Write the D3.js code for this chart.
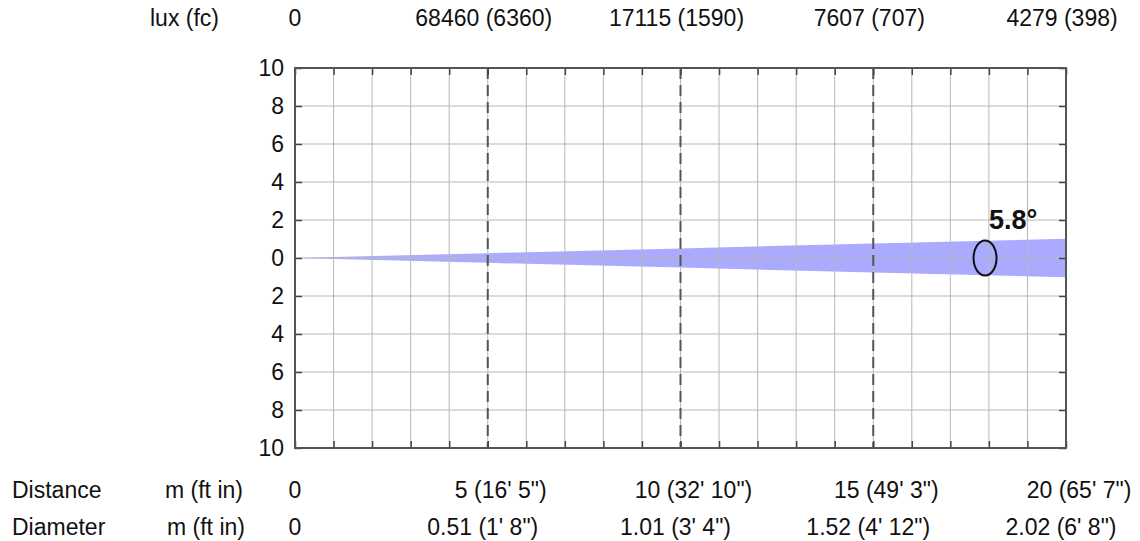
<!DOCTYPE html>
<html>
<head>
<meta charset="utf-8">
<script src="https://cdn.jsdelivr.net/npm/d3@7"></script>
<style>
  body { margin: 0; background: #fff; font-family: 'Liberation Sans', Arial, sans-serif; }
  svg { display: block; }
  .lbl { font-size: 23px; fill: #111; }
</style>
</head>
<body>
<svg id="chart" width="1140" height="541"></svg>
<script>
// beam data
const distances = [0, 5, 10, 15, 20];
const diameters = [0, 0.51, 1.01, 1.52, 2.02];
const distanceLabels = ['0', "5 (16' 5\")", "10 (32' 10\")", "15 (49' 3\")", "20 (65' 7\")"];
const diameterLabels = ['0', "0.51 (1' 8\")", "1.01 (3' 4\")", "1.52 (4' 12\")", "2.02 (6' 8\")"];
const luxLabels = ['0', '68460 (6360)', '17115 (1590)', '7607 (707)', '4279 (398)'];
const yTicks = [-10, -8, -6, -4, -2, 0, 2, 4, 6, 8, 10];
const beamAngle = '5.8°';
const markerDistance = 17.9;

const svg = d3.select('#chart');
const margin = { left: 295, right: 74, top: 68, bottom: 93 };
const W = 1140, H = 541;

const x = d3.scaleLinear().domain([0, 20]).range([margin.left, W - margin.right]);
const y = d3.scaleLinear().domain([-10, 10]).range([H - margin.bottom, margin.top]);

const plot = svg.append('g');

// beam
const beam = distances.map((d, i) => ({ d: d, half: diameters[i] / 2 }));
plot.append('path')
  .datum(beam)
  .attr('fill', '#aaaaff')
  .attr('d', d3.area().x(p => x(p.d)).y0(p => y(-p.half)).y1(p => y(p.half)));

// grid
plot.selectAll('line.vg')
  .data(d3.range(1, 20))
  .enter().append('line')
  .attr('x1', d => x(d)).attr('x2', d => x(d))
  .attr('y1', y(10)).attr('y2', y(-10))
  .attr('stroke', '#b8b8b8').attr('stroke-width', 1);

plot.selectAll('line.hg')
  .data(yTicks.slice(1, -1))
  .enter().append('line')
  .attr('x1', x(0)).attr('x2', x(20))
  .attr('y1', d => y(d)).attr('y2', d => y(d))
  .attr('stroke', '#b8b8b8').attr('stroke-width', 1);

// dashed distance markers
plot.selectAll('line.dash')
  .data(distances.slice(1, -1))
  .enter().append('line')
  .attr('x1', d => x(d)).attr('x2', d => x(d))
  .attr('y1', y(10)).attr('y2', y(-10))
  .attr('stroke', '#555').attr('stroke-width', 2)
  .attr('stroke-dasharray', '11,6');

// tick marks on all four sides
const tickSides = [
  [d3.axisTop(x).tickValues(d3.range(0, 21)), 'translate(0,' + y(10) + ')'],
  [d3.axisBottom(x).tickValues(d3.range(0, 21)), 'translate(0,' + y(-10) + ')'],
  [d3.axisLeft(y).tickValues(yTicks), 'translate(' + x(0) + ',0)'],
  [d3.axisRight(y).tickValues(yTicks), 'translate(' + x(20) + ',0)']
];
tickSides.forEach(([ax, tr]) => {
  const g = plot.append('g').attr('transform', tr)
    .call(ax.tickSize(-7).tickFormat(''));
  g.select('.domain').remove();
  g.selectAll('line').attr('stroke', '#444').attr('stroke-width', 1.5);
});

// box
plot.append('rect')
  .attr('x', x(0)).attr('y', y(10))
  .attr('width', x(20) - x(0)).attr('height', y(-10) - y(10))
  .attr('fill', 'none').attr('stroke', '#555').attr('stroke-width', 2);

// y labels
svg.selectAll('text.ylab')
  .data(yTicks)
  .enter().append('text')
  .attr('class', 'lbl')
  .attr('x', x(0) - 11)
  .attr('y', d => y(d))
  .attr('dy', '0.36em')
  .attr('text-anchor', 'end')
  .text(d => Math.abs(d));

// beam angle marker
svg.append('ellipse')
  .attr('cx', x(markerDistance)).attr('cy', y(0))
  .attr('rx', 11.5).attr('ry', 17.5)
  .attr('fill', 'none').attr('stroke', '#111').attr('stroke-width', 2);
svg.append('text')
  .attr('x', x(markerDistance) + 4).attr('y', y(0) - 29)
  .attr('font-size', 27).attr('font-weight', 'bold').attr('fill', '#111')
  .text(beamAngle);

// top row: lux
svg.append('text').attr('class', 'lbl').attr('x', 150).attr('y', 26).text('lux (fc)');
svg.selectAll('text.lux')
  .data(luxLabels)
  .enter().append('text')
  .attr('class', 'lbl')
  .attr('x', (d, i) => i === 0 ? x(0) : x(distances[i]) - 4)
  .attr('y', 26)
  .attr('text-anchor', 'middle')
  .text(d => d);

// bottom rows
svg.append('text').attr('class', 'lbl').attr('x', 12).attr('y', 498).text('Distance');
svg.append('text').attr('class', 'lbl').attr('x', 165).attr('y', 498).text('m (ft in)');
svg.append('text').attr('class', 'lbl').attr('x', 12).attr('y', 535).text('Diameter');
svg.append('text').attr('class', 'lbl').attr('x', 167).attr('y', 535).text('m (ft in)');

svg.selectAll('text.dist')
  .data(distanceLabels)
  .enter().append('text')
  .attr('class', 'lbl')
  .attr('x', (d, i) => i === 0 ? x(0) : x(distances[i]) + 13)
  .attr('y', 498)
  .attr('text-anchor', 'middle')
  .text(d => d);

svg.selectAll('text.diam')
  .data(diameterLabels)
  .enter().append('text')
  .attr('class', 'lbl')
  .attr('x', (d, i) => i === 0 ? x(0) : x(distances[i]) - 5)
  .attr('y', 535)
  .attr('text-anchor', 'middle')
  .text(d => d);
</script>
</body>
</html>
